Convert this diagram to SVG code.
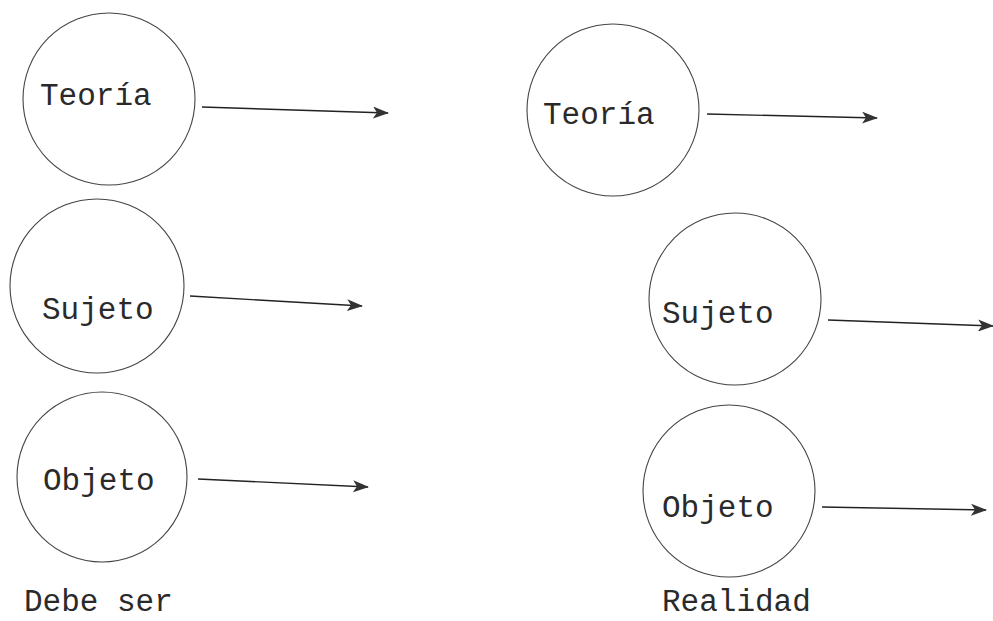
<svg xmlns="http://www.w3.org/2000/svg" width="993" height="621" viewBox="0 0 993 621">
  <defs>
    <style>
      .node circle { fill: none; stroke: #444; stroke-width: 1.1; }
      .lbl { font-family: "Liberation Mono", "Courier New", monospace; font-size: 31px; fill: #2a2a2a; }
      .conn line { stroke: #222; stroke-width: 1.4; marker-end: url(#ah); }
    </style>
    <marker id="ah" viewBox="0 0 16 12" refX="15" refY="6" markerWidth="16" markerHeight="12" markerUnits="userSpaceOnUse" orient="auto">
      <path d="M0,0 L16,6 L0,12 L4,6 Z" fill="#333"/>
    </marker>
  </defs>
  <rect width="993" height="621" fill="#fff"/>

  <g id="teoria-debe" class="node">
    <circle cx="109" cy="99" r="86"/>
    <text class="lbl" x="40" y="105">Teoría</text>
  </g>
  <g id="sujeto-debe" class="node">
    <circle cx="97" cy="286" r="87"/>
    <text class="lbl" x="42" y="319">Sujeto</text>
  </g>
  <g id="objeto-debe" class="node">
    <circle cx="102" cy="477" r="85"/>
    <text class="lbl" x="43" y="490">Objeto</text>
  </g>
  <g id="teoria-real" class="node">
    <circle cx="613" cy="110" r="86"/>
    <text class="lbl" x="543" y="124">Teoría</text>
  </g>
  <g id="sujeto-real" class="node">
    <circle cx="735" cy="299" r="86"/>
    <text class="lbl" x="662" y="323">Sujeto</text>
  </g>
  <g id="objeto-real" class="node">
    <circle cx="729" cy="491" r="86"/>
    <text class="lbl" x="662" y="517">Objeto</text>
  </g>

  <g id="connectors" class="conn">
    <line x1="202" y1="107" x2="388" y2="113"/>
    <line x1="190" y1="296" x2="362" y2="306"/>
    <line x1="198" y1="479" x2="368" y2="487"/>
    <line x1="707" y1="114" x2="877" y2="118"/>
    <line x1="828" y1="320" x2="993" y2="326"/>
    <line x1="822" y1="507" x2="986" y2="510"/>
  </g>

  <g id="captions">
    <text class="lbl" x="24" y="611">Debe ser</text>
    <text class="lbl" x="662" y="611">Realidad</text>
  </g>
</svg>
